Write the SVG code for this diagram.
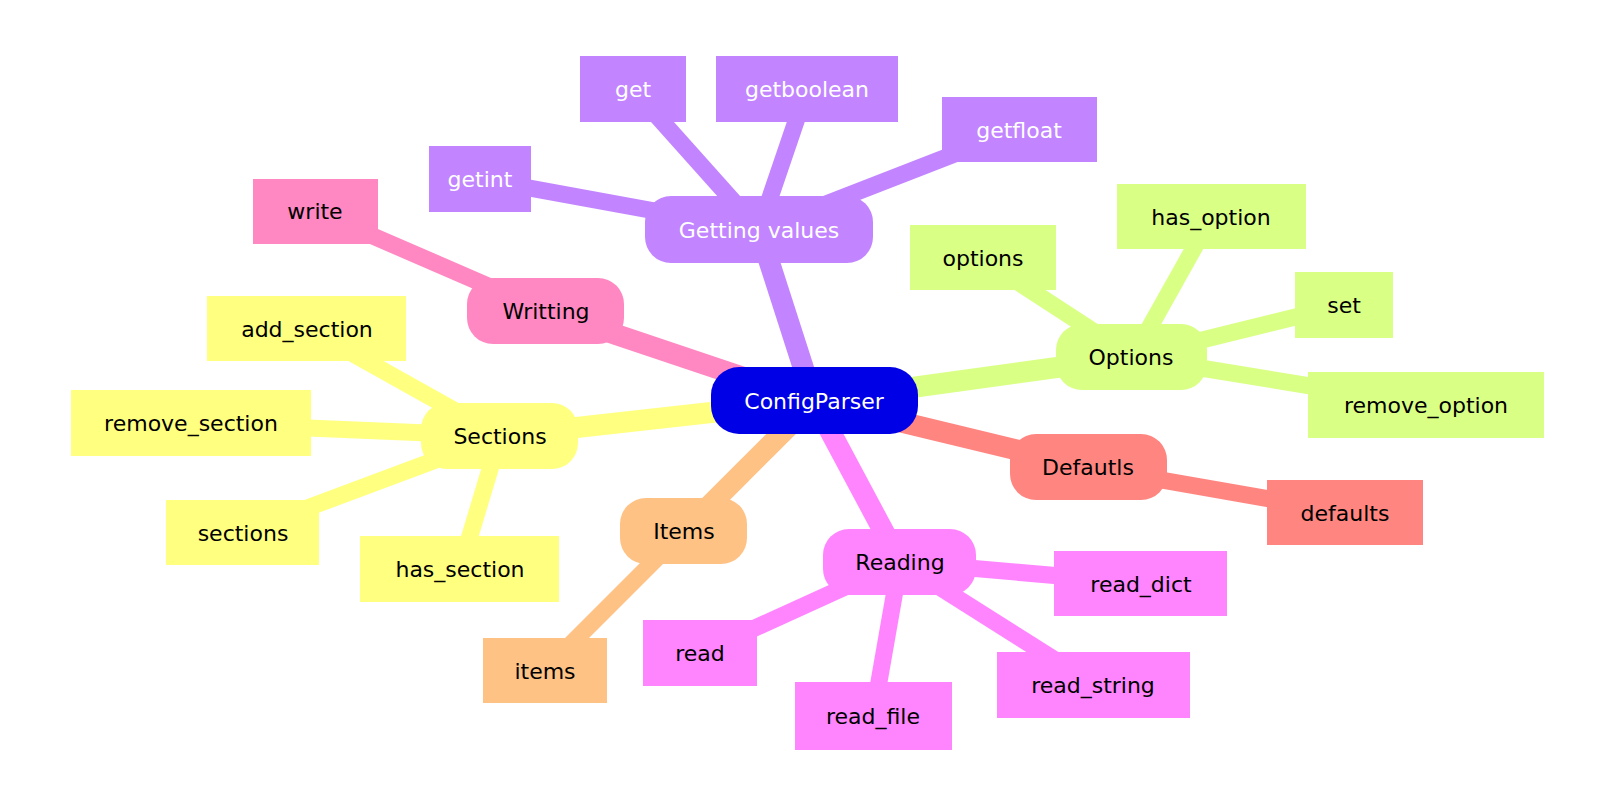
<svg xmlns="http://www.w3.org/2000/svg" width="1600" height="800" viewBox="0 0 1600 800">
<style>
text{font-family:"DejaVu Sans","Liberation Sans",sans-serif;font-size:22px;text-anchor:middle;dominant-baseline:central;fill:#000}
.w{fill:#fff}
.c line{stroke-linecap:butt}
.m{stroke-width:21}
.l{stroke-width:17}
.pu{fill:#C285FF}.pk{fill:#FF88C2}.ye{fill:#FFFF80}.or{fill:#FFC285}.mg{fill:#FF85FF}.rd{fill:#FF8580}.gr{fill:#D9FF85}.bl{fill:#0000E6}
</style>
<rect width="1600" height="800" fill="#fff"/>
<g id="connectors" class="c">
<g stroke="#C285FF">
<line class="m" x1="814" y1="401" x2="759" y2="230"/>
<line class="l" x1="759" y1="230" x2="633" y2="89"/>
<line class="l" x1="759" y1="230" x2="807" y2="89"/>
<line class="l" x1="759" y1="230" x2="1019" y2="129"/>
<line class="l" x1="759" y1="230" x2="480" y2="179"/>
</g>
<g stroke="#FF88C2">
<line class="m" x1="814" y1="401" x2="546" y2="311"/>
<line class="l" x1="546" y1="311" x2="315" y2="211"/>
</g>
<g stroke="#FFFF80">
<line class="m" x1="814" y1="401" x2="500" y2="436"/>
<line class="l" x1="500" y1="436" x2="307" y2="328"/>
<line class="l" x1="500" y1="436" x2="191" y2="423"/>
<line class="l" x1="500" y1="436" x2="243" y2="532"/>
<line class="l" x1="500" y1="436" x2="460" y2="569"/>
</g>
<g stroke="#FFC285">
<line class="m" x1="814" y1="401" x2="684" y2="531"/>
<line class="l" x1="684" y1="531" x2="545" y2="670"/>
</g>
<g stroke="#FF85FF">
<line class="m" x1="814" y1="401" x2="900" y2="562"/>
<line class="l" x1="900" y1="562" x2="700" y2="653"/>
<line class="l" x1="900" y1="562" x2="873" y2="716"/>
<line class="l" x1="900" y1="562" x2="1093" y2="684"/>
<line class="l" x1="900" y1="562" x2="1141" y2="583"/>
</g>
<g stroke="#FF8580">
<line class="m" x1="814" y1="401" x2="1087" y2="467"/>
<line class="l" x1="1087" y1="467" x2="1345" y2="512"/>
</g>
<g stroke="#D9FF85">
<line class="m" x1="814" y1="401" x2="1133" y2="357"/>
<line class="l" x1="1133" y1="357" x2="984" y2="260"/>
<line class="l" x1="1133" y1="357" x2="1212" y2="216"/>
<line class="l" x1="1133" y1="357" x2="1344" y2="305"/>
<line class="l" x1="1133" y1="357" x2="1427" y2="405"/>
</g>
</g>

<g id="configparser"><rect class="bl" x="711" y="367" width="207" height="67" rx="28"/><text class="w" x="814" y="401">ConfigParser</text></g>

<g id="getting-values"><rect class="pu" x="645" y="196" width="228" height="67" rx="26"/><text class="w" x="759" y="230">Getting values</text></g>
<g id="get"><rect class="pu" x="580" y="56" width="106" height="66"/><text class="w" x="633" y="89">get</text></g>
<g id="getboolean"><rect class="pu" x="716" y="56" width="182" height="66"/><text class="w" x="807" y="89">getboolean</text></g>
<g id="getfloat"><rect class="pu" x="942" y="97" width="155" height="65"/><text class="w" x="1019" y="130">getfloat</text></g>
<g id="getint"><rect class="pu" x="429" y="146" width="102" height="66"/><text class="w" x="480" y="179">getint</text></g>

<g id="writting"><rect class="pk" x="467" y="278" width="157" height="66" rx="26"/><text x="546" y="311">Writting</text></g>
<g id="write"><rect class="pk" x="253" y="179" width="125" height="65"/><text x="315" y="211">write</text></g>

<g id="sections-node"><rect class="ye" x="421" y="403" width="157" height="66" rx="26"/><text x="500" y="436">Sections</text></g>
<g id="add_section"><rect class="ye" x="207" y="296" width="199" height="65"/><text x="307" y="329">add_section</text></g>
<g id="remove_section"><rect class="ye" x="71" y="390" width="240" height="66"/><text x="191" y="423">remove_section</text></g>
<g id="sections"><rect class="ye" x="166" y="500" width="153" height="65"/><text x="243" y="533">sections</text></g>
<g id="has_section"><rect class="ye" x="360" y="536" width="199" height="66"/><text x="460" y="569">has_section</text></g>

<g id="items-node"><rect class="or" x="620" y="498" width="127" height="66" rx="26"/><text x="684" y="531">Items</text></g>
<g id="items"><rect class="or" x="483" y="638" width="124" height="65"/><text x="545" y="671">items</text></g>

<g id="reading"><rect class="mg" x="823" y="529" width="153" height="66" rx="26"/><text x="900" y="562">Reading</text></g>
<g id="read"><rect class="mg" x="643" y="620" width="114" height="66"/><text x="700" y="653">read</text></g>
<g id="read_file"><rect class="mg" x="795" y="682" width="157" height="68"/><text x="873" y="716">read_file</text></g>
<g id="read_string"><rect class="mg" x="997" y="652" width="193" height="66"/><text x="1093" y="685">read_string</text></g>
<g id="read_dict"><rect class="mg" x="1054" y="551" width="173" height="65"/><text x="1141" y="584">read_dict</text></g>

<g id="defautls"><rect class="rd" x="1010" y="434" width="157" height="66" rx="26"/><text x="1088" y="467">Defautls</text></g>
<g id="defaults"><rect class="rd" x="1267" y="480" width="156" height="65"/><text x="1345" y="513">defaults</text></g>

<g id="options-node"><rect class="gr" x="1056" y="324" width="151" height="66" rx="26"/><text x="1131" y="357">Options</text></g>
<g id="options"><rect class="gr" x="910" y="225" width="146" height="65"/><text x="983" y="258">options</text></g>
<g id="has_option"><rect class="gr" x="1117" y="184" width="189" height="65"/><text x="1211" y="217">has_option</text></g>
<g id="set"><rect class="gr" x="1295" y="272" width="98" height="66"/><text x="1344" y="305">set</text></g>
<g id="remove_option"><rect class="gr" x="1308" y="372" width="236" height="66"/><text x="1426" y="405">remove_option</text></g>
</svg>
